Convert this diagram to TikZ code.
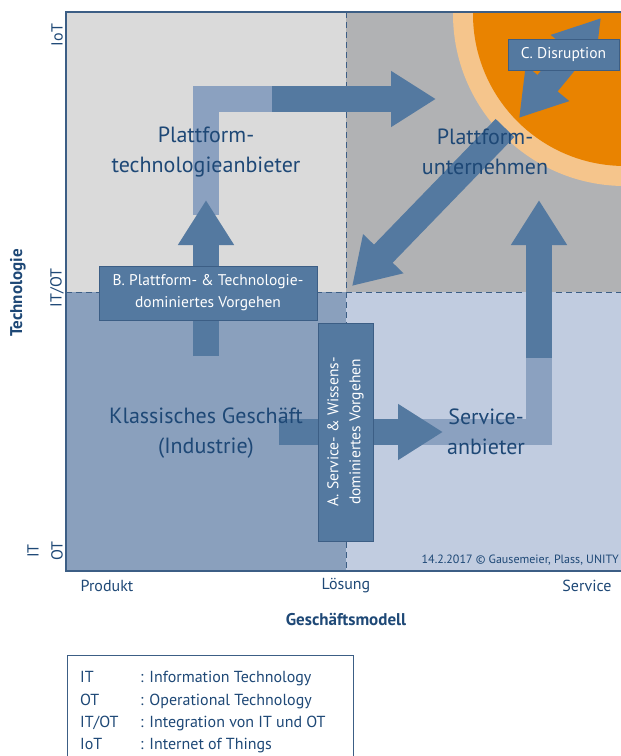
\documentclass[tikz,border=0pt]{standalone}
\usepackage{fontspec}
\setmainfont{PT Sans}
\usetikzlibrary{arrows.meta}

\definecolor{tlgray}{HTML}{DADADA}
\definecolor{trgray}{HTML}{B1B2B4}
\definecolor{blblue}{HTML}{8AA0BD}
\definecolor{brblue}{HTML}{C1CCE0}
\definecolor{arrowblue}{HTML}{5479A0}
\definecolor{lightband}{HTML}{8BA1C0}
\definecolor{disorange}{HTML}{E98300}
\definecolor{ringorange}{HTML}{F5C58C}
\definecolor{textblue}{HTML}{1E4876}
\definecolor{framebl}{HTML}{3C5E85}

\tikzset{
  bigarrow/.style={draw=arrowblue, line width=26pt, -{Triangle[width=53pt,length=45pt]}},
  dblarrow/.style={draw=arrowblue, line width=26pt, {Triangle[width=53pt,length=45pt]}-{Triangle[width=53pt,length=45pt]}},
  band/.style={draw=lightband, line width=26pt, line join=miter},
  stepbox/.style={draw=framebl, fill=arrowblue, text=white, align=center, inner sep=0pt,
    font=\fontsize{15.5}{22}\selectfont},
  quadlabel/.style={text=textblue, align=center, font=\fontsize{22}{30}\selectfont},
  axislabel/.style={text=textblue, font=\fontsize{16}{18}\selectfont},
  axistitle/.style={text=textblue, font=\bfseries\fontsize{17}{20}\selectfont},
  legendtext/.style={text=textblue, anchor=base west, inner sep=0pt, font=\fontsize{16}{18}\selectfont},
}

\begin{document}
\begin{tikzpicture}[x=1pt,y=-1pt]
\useasboundingbox (0,0) rectangle (621,756);

% quadrants
\fill[tlgray] (66,12) rectangle (346,292);
\fill[trgray] (346,12) rectangle (621,292);
\fill[blblue] (66,292) rectangle (346,571);
\fill[brblue] (346,292) rectangle (621,571);

% disruption circle
\begin{scope}
\clip (66,12) rectangle (621,571);
\fill[ringorange] (625,14) circle (172pt);
\fill[disorange] (625,14) circle (152pt);
\end{scope}

% dividers and frame
\draw[framebl, dash pattern=on 6pt off 4pt] (346,12) -- (346,571);
\draw[framebl, dash pattern=on 6pt off 4pt] (66,292) -- (621,292);
\draw[framebl, line width=1.2pt] (621,12) -- (66,12) -- (66,571) -- (621,571);

% path points
\coordinate (kgStart) at (279,432);
\coordinate (saTip) at (443,432);
\coordinate (saBand) at (410,432);
\coordinate (saCorner) at (539,432);
\coordinate (saTop) at (539,358);
\coordinate (puTip) at (539,200);
\coordinate (ptStart) at (206,356);
\coordinate (ptTip) at (206,200);
\coordinate (ptBand) at (206,215);
\coordinate (ptCorner) at (206,99);
\coordinate (ptRight) at (272,99);
\coordinate (puLeftTip) at (436,99);
\coordinate (puDiag) at (505,128);
\coordinate (cornerTip) at (352,286);
\coordinate (disLow) at (519,118);
\coordinate (disHigh) at (601,18);

% light bands
\draw[band] (saBand) -- (saCorner) -- (saTop);
\draw[band] (ptBand) -- (ptCorner) -- (ptRight);

% arrows
\draw[bigarrow] (kgStart) -- (saTip);
\draw[bigarrow] (saTop) -- (puTip);
\draw[bigarrow] (ptStart) -- (ptTip);
\draw[bigarrow] (ptRight) -- (puLeftTip);
\draw[bigarrow] (puDiag) -- (cornerTip);
\draw[dblarrow] (disLow) -- (disHigh);

% quadrant labels
\node[quadlabel] (pta) at (206,152) {Plattform-\\technologieanbieter};
\node[quadlabel] (pun) at (485,152) {Plattform-\\unternehmen};
\node[quadlabel] (kg) at (206,433) {Klassisches Geschäft\\(Industrie)};
\node[quadlabel] (sa) at (486,432) {Service-\\anbieter};

% strategy boxes
\node[stepbox, minimum width=111pt, minimum height=31pt] (disr) at (563.5,54.5) {C. Disruption};
\node[stepbox, minimum width=218pt, minimum height=54pt] (ptv) at (208,293)
  {B. Plattform- \& Technologie-\\dominiertes Vorgehen};
\node[stepbox, rotate=90, minimum width=218pt, minimum height=55pt] (swv) at (345.5,432)
  {A. Service- \& Wissens-\\dominiertes Vorgehen};

% axes
\node[axislabel, rotate=90] (iot) at (57,35) {IoT};
\node[axislabel, rotate=90] (itot) at (57,288) {IT/OT};
\node[axislabel, rotate=90] (ot) at (57,551) {OT};
\node[axislabel, rotate=90] (it) at (33,551) {IT};
\node[axistitle, rotate=90] (tech) at (18,293) {Technologie};
\node[axislabel] (produkt) at (107,586) {Produkt};
\node[axislabel] (loesung) at (346,586) {Lösung};
\node[axislabel] (service) at (587,586) {Service};
\node[axistitle] (gm) at (346,619) {Geschäftsmodell};
\node[text=textblue, anchor=east, inner sep=0pt, font=\fontsize{12}{14}\selectfont] (copy) at (619,560)
  {14.2.2017 © Gausemeier, Plass, UNITY};

% legend
\draw[framebl] (67,760) -- (67,655) -- (353,655) -- (353,760);
\node[legendtext] (legIT) at (80,682) {IT};
\node[legendtext] (legITd) at (140,682) {: Information Technology};
\node[legendtext] (legOT) at (80,705) {OT};
\node[legendtext] (legOTd) at (140,705) {: Operational Technology};
\node[legendtext] (legITOT) at (80,727) {IT/OT};
\node[legendtext] (legITOTd) at (140,727) {: Integration von IT und OT};
\node[legendtext] (legIoT) at (80,749) {IoT};
\node[legendtext] (legIoTd) at (140,749) {: Internet of Things};
\end{tikzpicture}
\end{document}
